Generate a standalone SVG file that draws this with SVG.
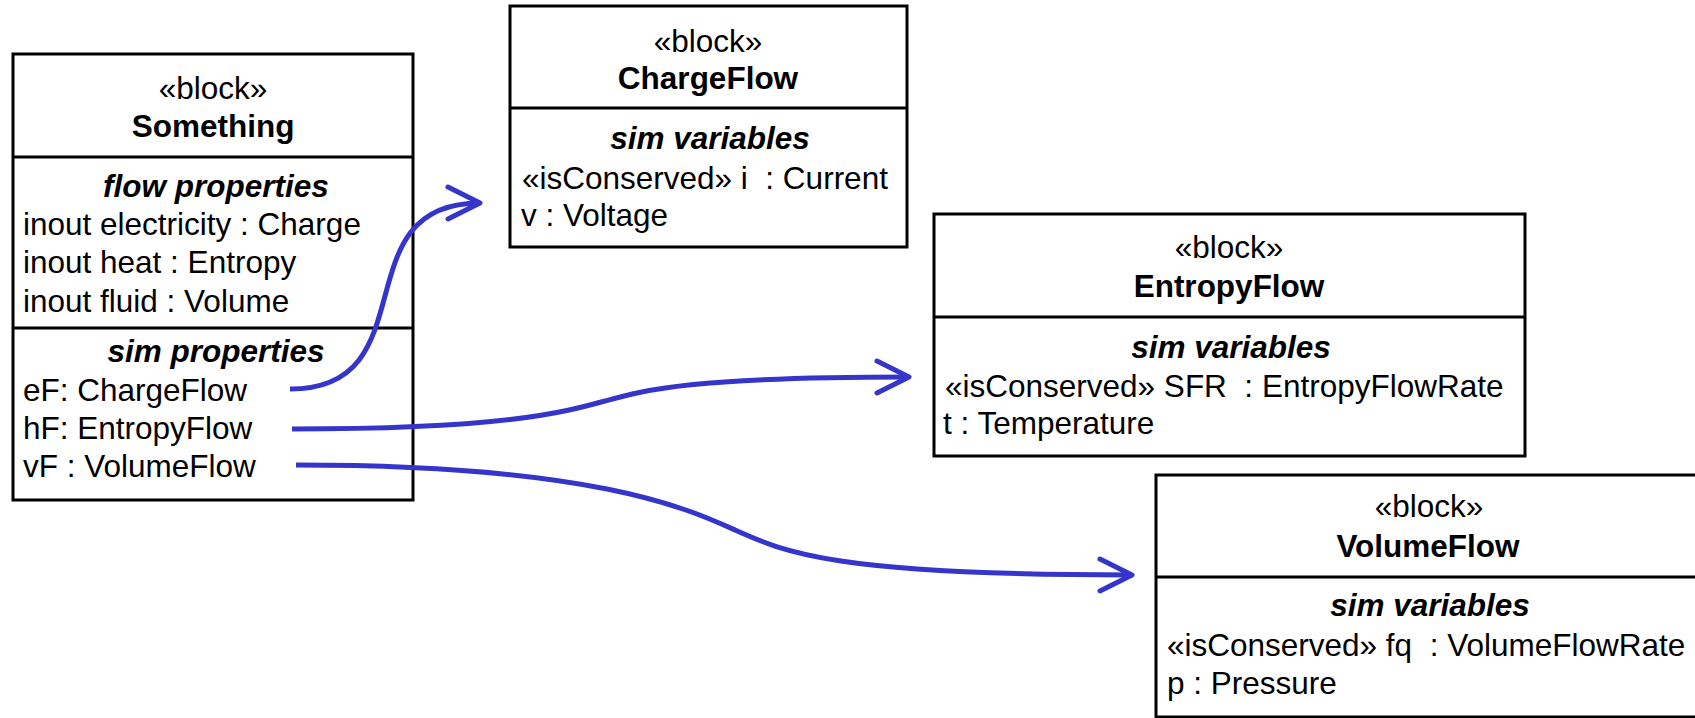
<svg xmlns="http://www.w3.org/2000/svg" width="1695" height="718" viewBox="0 0 1695 718">
<style>
.box{fill:#fff;stroke:#000;stroke-width:3}
.div{stroke:#000;stroke-width:3}
text{font-family:"Liberation Sans",Arial,sans-serif;font-size:31.5px;fill:#000}
.c{text-anchor:middle}
.b{font-weight:bold}
.bi{font-weight:bold;font-style:italic}
.conn{fill:none;stroke:#3535cc;stroke-width:5}
.head{fill:none;stroke:#3535cc;stroke-width:5;stroke-linecap:round;stroke-linejoin:round}
</style>
<defs>
<marker id="arr" markerUnits="userSpaceOnUse" markerWidth="50" markerHeight="50" refX="40" refY="20" orient="auto" overflow="visible">
<polyline class="head" points="8,4 40,20 8,36"/>
</marker>
</defs>
<rect width="1695" height="718" fill="#fff"/>
<g id="Something">
<rect class="box" x="13" y="54" width="400" height="446"/>
<line class="div" x1="13" y1="157" x2="413" y2="157"/>
<line class="div" x1="13" y1="328" x2="413" y2="328"/>
<text class="c" x="213" y="99">«block»</text>
<text class="c b" x="213" y="137">Something</text>
<text class="c bi" x="216" y="197">flow properties</text>
<text x="23" y="235">inout electricity : Charge</text>
<text x="23" y="273">inout heat : Entropy</text>
<text x="23" y="312">inout fluid : Volume</text>
<text class="c bi" x="216" y="362">sim properties</text>
<text x="23" y="401">eF: ChargeFlow</text>
<text x="23" y="439">hF: EntropyFlow</text>
<text x="23" y="477">vF : VolumeFlow</text>
</g>
<g id="ChargeFlow">
<rect class="box" x="510" y="6" width="397" height="241"/>
<line class="div" x1="510" y1="108" x2="907" y2="108"/>
<text class="c" x="708" y="52">«block»</text>
<text class="c b" x="708" y="89">ChargeFlow</text>
<text class="c bi" x="710" y="149">sim variables</text>
<text x="522" y="189" xml:space="preserve">«isConserved» i  : Current</text>
<text x="521" y="226">v : Voltage</text>
</g>
<g id="EntropyFlow">
<rect class="box" x="934" y="214" width="591" height="242"/>
<line class="div" x1="934" y1="317" x2="1525" y2="317"/>
<text class="c" x="1229" y="258">«block»</text>
<text class="c b" x="1229" y="297">EntropyFlow</text>
<text class="c bi" x="1231" y="358">sim variables</text>
<text x="945" y="397" xml:space="preserve">«isConserved» SFR  : EntropyFlowRate</text>
<text x="943" y="434">t : Temperature</text>
</g>
<g id="VolumeFlow">
<rect class="box" x="1156" y="475" width="560" height="242"/>
<line class="div" x1="1156" y1="577" x2="1716" y2="577"/>
<text class="c" x="1429" y="517">«block»</text>
<text class="c b" x="1428" y="557">VolumeFlow</text>
<text class="c bi" x="1430" y="616">sim variables</text>
<text x="1167" y="656" xml:space="preserve">«isConserved» fq  : VolumeFlowRate</text>
<text x="1167" y="694">p : Pressure</text>
</g>
<g id="connectors">
<path class="conn" marker-end="url(#arr)" d="M290,389 C430,389 340,203 480,203"/>
<path class="conn" marker-end="url(#arr)" d="M292,429 C505,429 565,412 605,401 C645,390 691,377 909,377"/>
<path class="conn" marker-end="url(#arr)" d="M296,465 C591,465 685,507.5 735,530 C785,552.5 835,575 1132,575"/>
</g>
</svg>
